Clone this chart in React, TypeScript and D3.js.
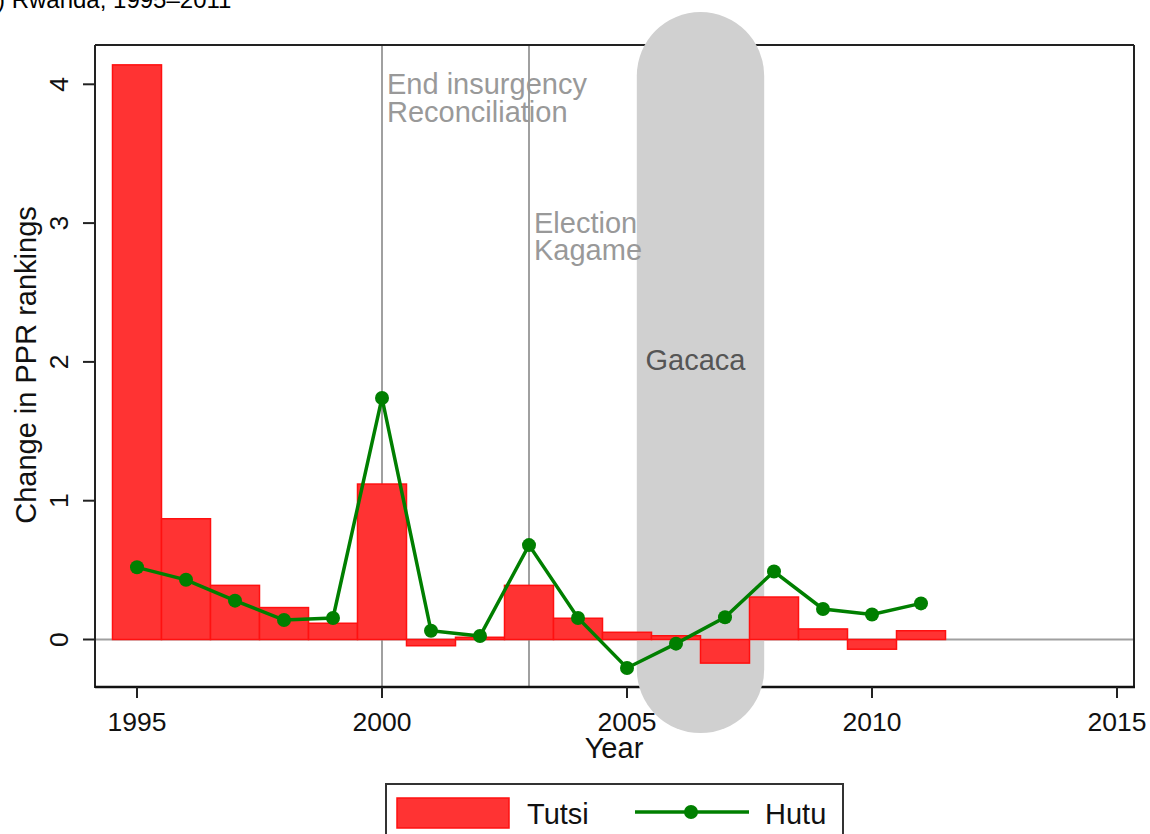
import React from "react";
import * as d3 from "d3";

const years = [1995, 1996, 1997, 1998, 1999, 2000, 2001, 2002, 2003, 2004, 2005, 2006, 2007, 2008, 2009, 2010, 2011];
const tutsi = [4.14, 0.87, 0.39, 0.23, 0.117, 1.12, -0.045, 0.016, 0.39, 0.153, 0.052, 0.027, -0.17, 0.306, 0.076, -0.07, 0.063];
const hutu = [0.52, 0.43, 0.28, 0.14, 0.155, 1.74, 0.063, 0.025, 0.68, 0.155, -0.205, -0.03, 0.16, 0.49, 0.22, 0.18, 0.26];
const xTicks = [1995, 2000, 2005, 2010, 2015];
const yTicks = [0, 1, 2, 3, 4];
const eventLines = [
  { year: 2000, labels: ["End insurgency", "Reconciliation"], labelValue: 3.93 },
  { year: 2003, labels: ["Election", "Kagame"], labelValue: 2.93 },
];
const gacaca = { start: 2005.2, end: 2007.8, top: 4.52, bottom: -0.674, label: "Gacaca", labelValue: 1.94 };
const title = ") Rwanda, 1995–2011";

const FONT = "'Liberation Sans', Arial, sans-serif";

export default function App() {
  const left = 95, right = 1134, top = 45, bottom = 687;
  const x = d3.scaleLinear().domain([1995, 2015]).range([137, 1117]);
  const y = d3.scaleLinear().domain([0, 4]).range([639.5, 84.3]);
  const bw = x(1995.5) - x(1995);

  const line = d3.line<number>()
    .x((_, i) => x(years[i]))
    .y((d) => y(d));

  const gx0 = x(gacaca.start), gx1 = x(gacaca.end);
  const gy0 = y(gacaca.top), gy1 = y(gacaca.bottom);
  const gr = (gx1 - gx0) / 2;

  return (
    <svg width={1150} height={834} style={{ position: "absolute", left: 0, top: 0, fontFamily: FONT }}>
      <rect width={1150} height={834} fill="#fff" />
      <text x={-3} y={8} fontSize={24} fill="#000">{title}</text>

      {/* zero line */}
      <line x1={left} x2={right} y1={y(0)} y2={y(0)} stroke="#a0a0a0" strokeWidth={2} />
      {/* event lines */}
      {eventLines.map((e) => (
        <line key={e.year} x1={x(e.year)} x2={x(e.year)} y1={top} y2={bottom} stroke="#a0a0a0" strokeWidth={2} />
      ))}
      {/* frame */}
      <line x1={left} x2={right} y1={top} y2={top} stroke="#222" strokeWidth={2} />
      <line x1={right} x2={right} y1={top} y2={bottom} stroke="#222" strokeWidth={2} />
      <line x1={left} x2={left} y1={top} y2={bottom + 1} stroke="#222" strokeWidth={2} />
      <line x1={left} x2={right + 1} y1={bottom} y2={bottom} stroke="#111" strokeWidth={2.5} />

      {/* ticks */}
      {yTicks.map((t) => (
        <g key={t}>
          <line x1={83} x2={left} y1={y(t)} y2={y(t)} stroke="#222" strokeWidth={2} />
          <text
            transform={`translate(68,${y(t)}) rotate(-90)`}
            textAnchor="middle"
            fontSize={26.5}
            fill="#111"
          >{t}</text>
        </g>
      ))}
      {xTicks.map((t) => (
        <g key={t}>
          <line x1={x(t)} x2={x(t)} y1={bottom} y2={698} stroke="#222" strokeWidth={2} />
          <text x={x(t)} y={731} textAnchor="middle" fontSize={26.5} fill="#111">{t}</text>
        </g>
      ))}

      {/* Gacaca band */}
      <rect x={gx0} y={gy0} width={gx1 - gx0} height={gy1 - gy0} rx={gr} ry={gr} fill="#d0d0d0" />

      {/* event labels */}
      {eventLines.map((e) =>
        e.labels.map((l, i) => (
          <text key={e.year + l} x={x(e.year) + 5} y={y(e.labelValue) + i * 27.5} fontSize={29} fill="#999">{l}</text>
        ))
      )}
      <text x={(gx0 + gx1) / 2 - 5} y={y(gacaca.labelValue)} textAnchor="middle" fontSize={29} fill="#555">{gacaca.label}</text>

      {/* bars */}
      {years.map((yr, i) => (
        <rect
          key={yr}
          x={x(yr) - bw}
          width={bw * 2}
          y={Math.min(y(tutsi[i]), y(0))}
          height={Math.abs(y(tutsi[i]) - y(0))}
          fill="#ff3333"
          stroke="#ff1010"
          strokeWidth={1.5}
        />
      ))}

      {/* hutu line */}
      <path d={line(hutu) || ""} fill="none" stroke="#007f00" strokeWidth={3.5} />
      {hutu.map((v, i) => (
        <circle key={i} cx={x(years[i])} cy={y(v)} r={7} fill="#007f00" />
      ))}

      {/* axis titles */}
      <text transform={`translate(36,365) rotate(-90)`} textAnchor="middle" fontSize={29} fill="#111">Change in PPR rankings</text>
      <text x={614} y={758} textAnchor="middle" fontSize={29} fill="#111">Year</text>

      {/* legend */}
      <rect x={386} y={784} width={457} height={60} fill="#fff" stroke="#333" strokeWidth={2} />
      <rect x={397} y={798} width={112} height={30} fill="#ff3333" stroke="#ff1010" strokeWidth={1.5} />
      <text x={527} y={824} fontSize={29} fill="#111">Tutsi</text>
      <line x1={635} x2={749} y1={812} y2={812} stroke="#007f00" strokeWidth={3.5} />
      <circle cx={691} cy={812} r={7} fill="#007f00" />
      <text x={765} y={824} fontSize={29} fill="#111">Hutu</text>
    </svg>
  );
}
